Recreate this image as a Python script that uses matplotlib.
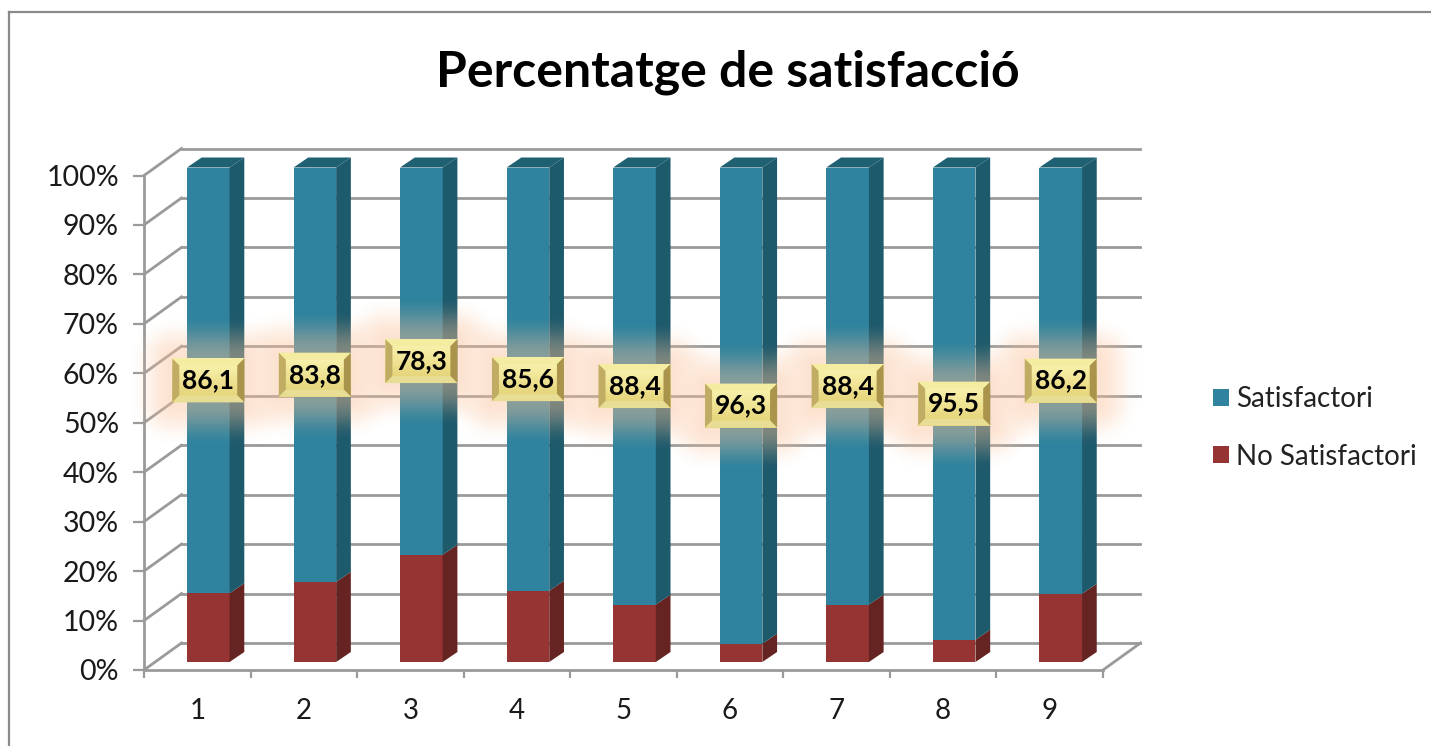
import numpy as np
import matplotlib
matplotlib.use("Agg")
import matplotlib.pyplot as plt
from matplotlib.lines import Line2D
from matplotlib.patches import Patch, Polygon
from matplotlib.transforms import Affine2D

plt.rcParams['font.family'] = ['Lato', 'DejaVu Sans']

categories = ['1', '2', '3', '4', '5', '6', '7', '8', '9']
satisfactori = [86.1, 83.8, 78.3, 85.6, 88.4, 96.3, 88.4, 95.5, 86.2]
no_satisfactori = [13.9, 16.2, 21.7, 14.4, 11.6, 3.7, 11.6, 4.5, 13.8]
label_texts = ['86,1', '83,8', '78,3', '85,6', '88,4', '96,3', '88,4', '95,5', '86,2']
y_ticks = [0, 10, 20, 30, 40, 50, 60, 70, 80, 90, 100]
y_labels = ['0%', '10%', '20%', '30%', '40%', '50%', '60%', '70%', '80%', '90%', '100%']
title = 'Percentatge de satisfacció'

W, H = 1431, 746
TEAL, TEAL_SIDE, TEAL_TOP = '#2F839E', '#1D5A6C', '#1F6073'
RED, RED_SIDE = '#953432', '#652321'
GRID = '#9A9A9A'
TXT = '#1A1A1A'

fig = plt.figure(figsize=(W / 100, H / 100), dpi=100, facecolor='white')
L, R, T, B = 144.0, 1103.0, 175.5, 670.0
ax = fig.add_axes([L / W, 1 - B / H, (R - L) / W, (B - T) / H])
ax.set_xlim(0.5, 9.5)
ax.set_ylim(0, 100)
ax.patch.set_alpha(0)
for s in ('top', 'right'):
    ax.spines[s].set_visible(False)
for s in ('left', 'bottom'):
    ax.spines[s].set_color(GRID)
    ax.spines[s].set_linewidth(2)
ax.set_xticks([i + 0.5 for i in range(0, 10)], minor=False)
ax.set_xticklabels([])
ax.set_xticks(np.arange(1, 10), minor=True)
ax.set_xticklabels(categories, minor=True, fontsize=20, color=TXT)
ax.tick_params(axis='x', which='major', length=6, width=1.6, color=GRID)
ax.tick_params(axis='x', which='minor', length=0, pad=20)
ax.set_yticks(y_ticks)
ax.set_yticklabels(y_labels, fontsize=20.5, color=TXT)
ax.tick_params(axis='y', length=8, width=1.6, color=GRID, pad=10)

# px -> data unit scales
ux = (R - L) / 9
uy = (B - T) / 100
back = ax.transData + Affine2D().translate(37.5, 27)
bar_tf = ax.transData + Affine2D().translate(11, 8)

# back wall gridlines + connectors
for v in y_ticks:
    ax.plot([0.5, 9.5], [v, v], color=GRID, lw=2, transform=back, clip_on=False, zorder=1)
    ax.plot([0.5, 0.5 + 37.5 / ux], [v, v + 27 / uy], color=GRID, lw=2, clip_on=False, zorder=1)
ax.plot([9.5, 9.5 + 37.5 / ux], [0, 27 / uy], color=GRID, lw=2, clip_on=False, zorder=1)

# stacked bars with 3D side
bw = 0.40
dx, dy = 14.7 / ux, 10 / uy
xs = np.arange(1, 10)
ax.bar(xs, no_satisfactori, bw, color=RED, transform=bar_tf, clip_on=False, zorder=3)
ax.bar(xs, satisfactori, bw, bottom=no_satisfactori, color=TEAL, transform=bar_tf, clip_on=False, zorder=3)
for x, n, s in zip(xs, no_satisfactori, satisfactori):
    r = x + bw / 2
    l = x - bw / 2
    top = n + s
    ax.add_patch(Polygon([(r, 0), (r + dx, dy), (r + dx, n + dy), (r, n)], fc=RED_SIDE, ec='none',
                         transform=bar_tf, clip_on=False, zorder=3))
    ax.add_patch(Polygon([(r, n), (r + dx, n + dy), (r + dx, top + dy), (r, top)], fc=TEAL_SIDE, ec='none',
                         transform=bar_tf, clip_on=False, zorder=3))
    ax.add_patch(Polygon([(l, top), (l + dx, top + dy), (r + dx, top + dy), (r, top)], fc=TEAL_TOP, ec='none',
                         transform=bar_tf, clip_on=False, zorder=3))

# overlay in pixel coordinates for glow and the bevelled labels
ov = fig.add_axes([0, 0, 1, 1], zorder=5)
ov.set_xlim(0, W)
ov.set_ylim(H, 0)
ov.axis('off')

centres = []
for x, n, s in zip(xs, no_satisfactori, satisfactori):
    px, py = bar_tf.transform((x, n + s / 2))
    centres.append((px, H - py))

BW, BH = 72, 44
yy, xx = np.mgrid[0:H, 0:W]
keep = np.ones((H, W))
for cx, cy in centres:
    ddx = np.maximum(np.abs(xx - cx) - BW / 2, 0)
    ddy = np.maximum(np.abs(yy - cy) - BH / 2, 0)
    d = np.hypot(ddx, ddy)
    t = np.clip(1 - d / 44, 0, 1)
    keep *= 1 - t * t * (3 - 2 * t)
field = 1 - keep
rgba = np.zeros((H, W, 4))
rgba[..., 0] = 250 / 255
rgba[..., 1] = 192 / 255
rgba[..., 2] = 150 / 255
rgba[..., 3] = 0.44 * field
ov.imshow(rgba, extent=(0, W, H, 0), interpolation='bilinear', aspect='auto', zorder=1)

grad = np.linspace(0, 1, 32)[:, None]
face = np.zeros((32, 1, 3))
face[..., 0] = (252 + (226 - 252) * grad) / 255
face[..., 1] = (246 + (207 - 246) * grad) / 255
face[..., 2] = (182 + (112 - 182) * grad) / 255
bev = 7
for (cx, cy), txt in zip(centres, label_texts):
    x0, x1, y0, y1 = cx - BW / 2, cx + BW / 2, cy - BH / 2, cy + BH / 2
    ov.imshow(face, extent=(x0, x1, y1, y0), aspect='auto', zorder=2, interpolation='bilinear')
    ov.add_patch(Polygon([(x0, y0), (x1, y0), (x1 - bev, y0 + bev), (x0 + bev, y0 + bev)],
                         fc='#F4ECA0', ec='none', zorder=3))
    ov.add_patch(Polygon([(x0, y0), (x0 + bev, y0 + bev), (x0 + bev, y1 - bev), (x0, y1)],
                         fc='#C0AC62', ec='none', zorder=3))
    ov.add_patch(Polygon([(x1, y0), (x1 - bev, y0 + bev), (x1 - bev, y1 - bev), (x1, y1)],
                         fc='#AA944C', ec='none', zorder=3))
    ov.add_patch(Polygon([(x0, y1), (x0 + bev, y1 - bev), (x1 - bev, y1 - bev), (x1, y1)],
                         fc='#E8DD95', ec='none', zorder=3))
    ov.text(cx, cy, txt, ha='center', va='center', fontsize=19, fontweight='bold', color='black', zorder=4)
ov.set_xlim(0, W)
ov.set_ylim(H, 0)

# title
fig.text(728 / W, 1 - 72 / H, title, ha='center', va='center', fontsize=36, fontweight='bold', color='black', zorder=6)

# legend
handles = [Patch(fc=TEAL, ec='none'), Patch(fc=RED, ec='none')]
ax.legend(handles, ['Satisfactori', 'No Satisfactori'], loc='center left',
          bbox_to_anchor=(1213 / W, 1 - 428 / H), bbox_transform=fig.transFigure,
          frameon=False, fontsize=20, labelcolor='#222222',
          handlelength=0.58, handleheight=0.58, handletextpad=0.25, labelspacing=1.12, borderpad=0, borderaxespad=0)

# outer frame: only the top and left edges fall inside the picture
for xv, yv in (([9, 9], [12, H]), ([9, W], [12, 12])):
    fig.add_artist(Line2D([v / W for v in xv], [1 - v / H for v in yv], transform=fig.transFigure,
                          color='#8A8A8A', lw=1.6))

fig.savefig('out.png', dpi=100, facecolor='white')
